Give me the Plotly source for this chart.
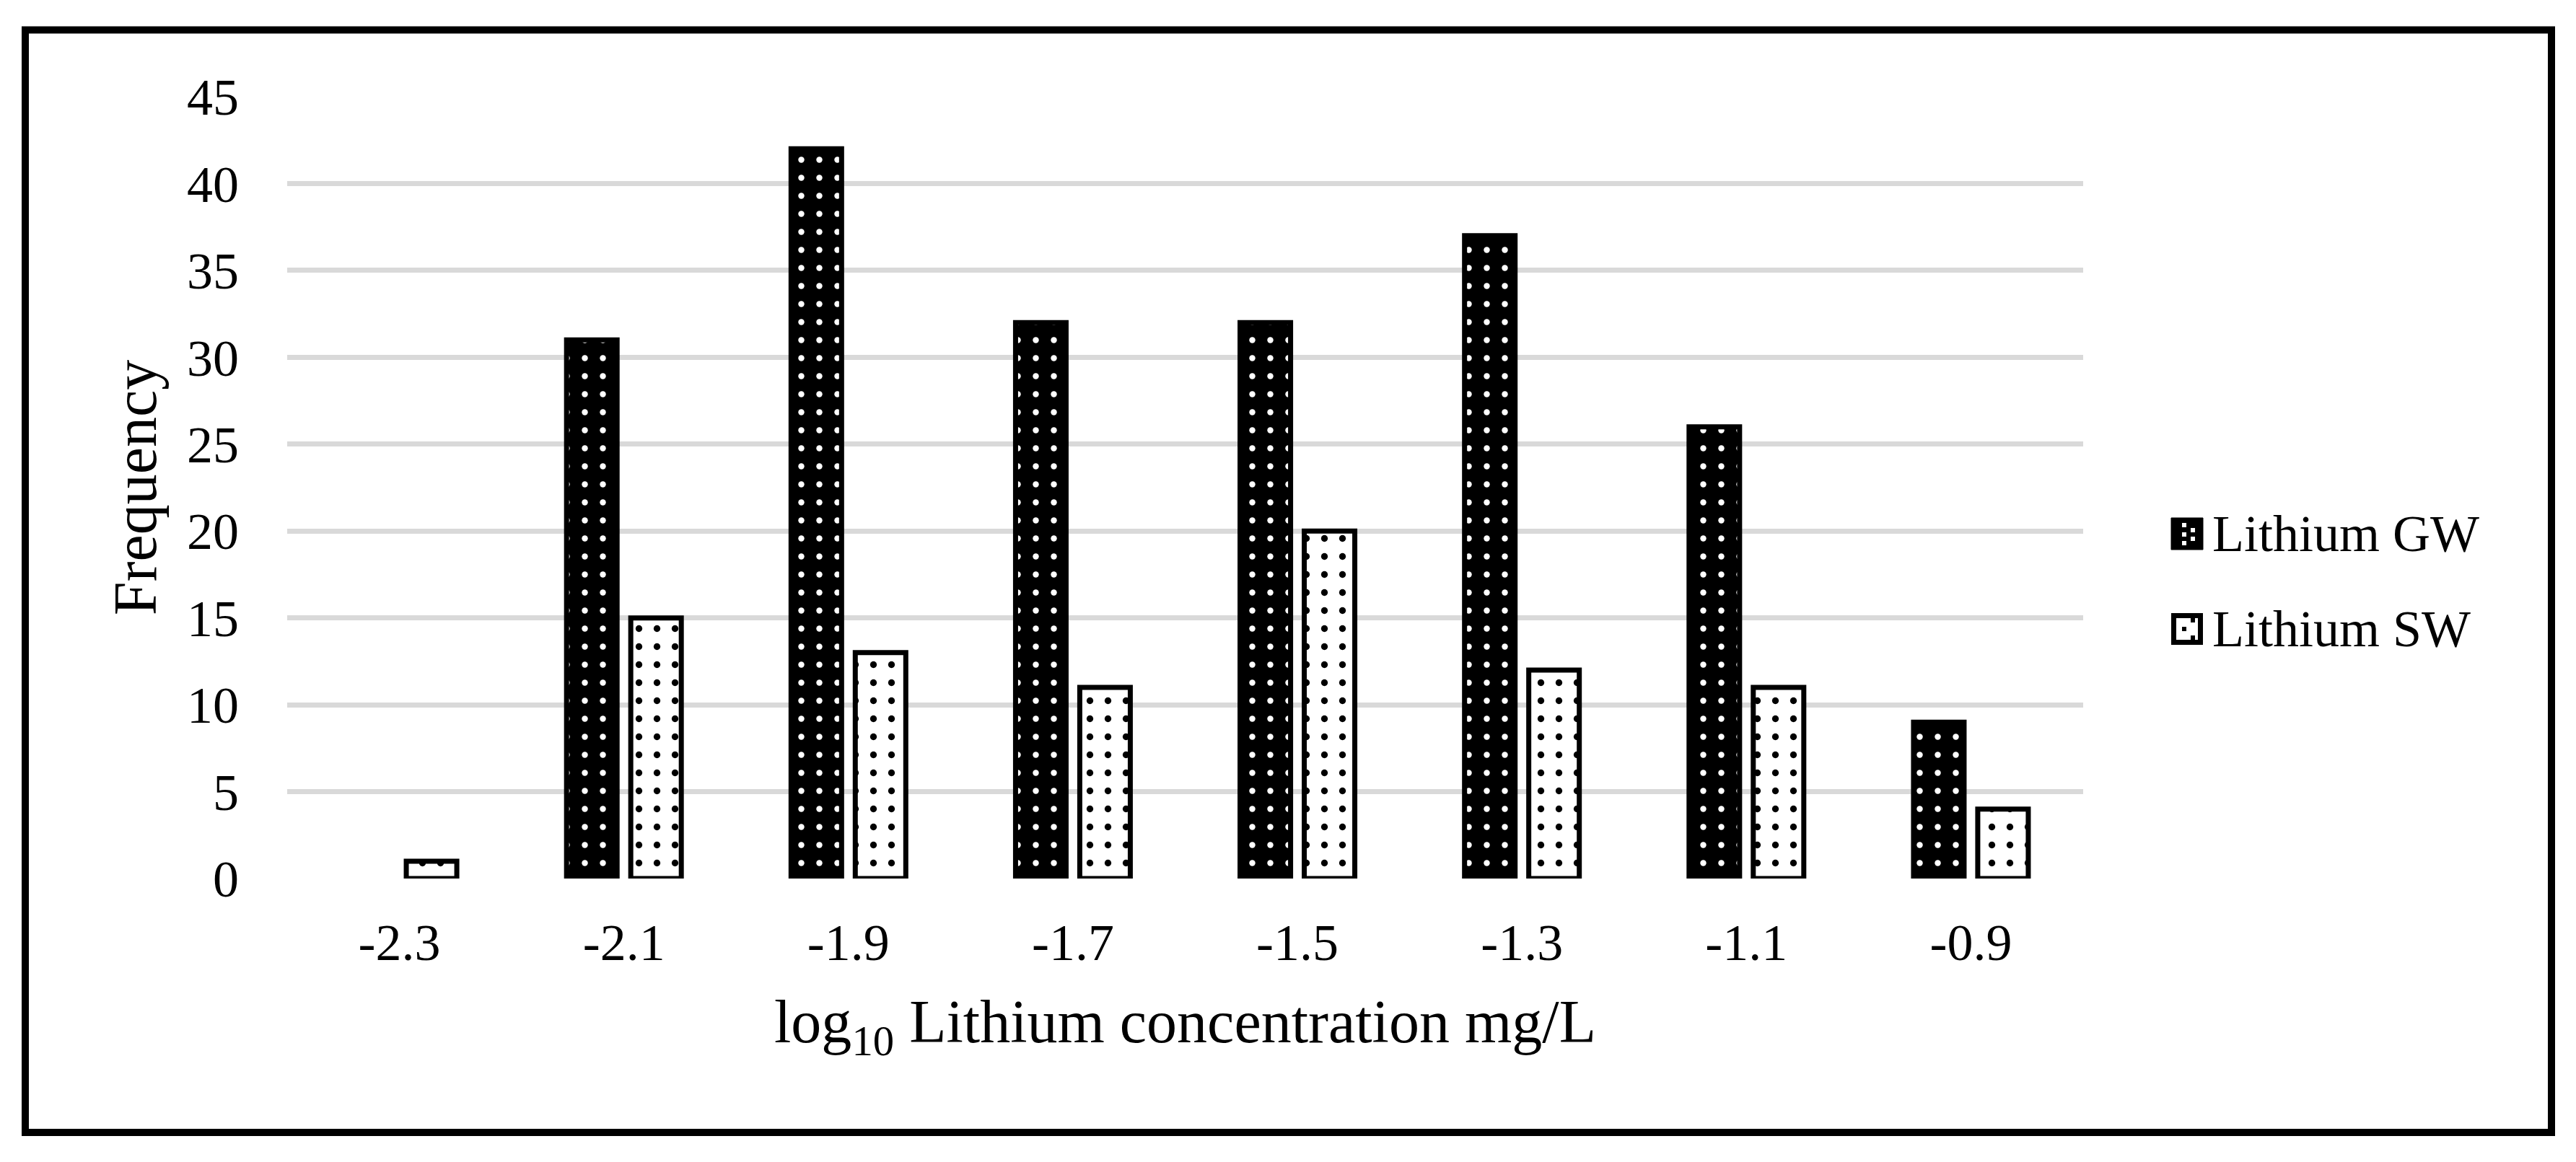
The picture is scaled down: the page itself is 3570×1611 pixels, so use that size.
import plotly.graph_objects as go

# ---- data ----
categories = ["-2.3", "-2.1", "-1.9", "-1.7", "-1.5", "-1.3", "-1.1", "-0.9"]
gw_values = [0, 31, 42, 32, 32, 37, 26, 9]
sw_values = [1, 15, 13, 11, 20, 12, 11, 4]
y_ticks = [0, 5, 10, 15, 20, 25, 30, 35, 40, 45]
series_names = ["Lithium GW", "Lithium SW"]
x_title = "log<sub>10</sub> Lithium concentration mg/L"
y_title = "Frequency"

# ---- geometry (page pixels; the page body adds an 8 px margin) ----
OFF = 8
W, H = 3570 - 2 * OFF, 1611 - 2 * OFF
L, R, T, B = 398 - OFF, 2887 - OFF, 134 - OFF, 1218 - OFF  # plot area in figure px


def px(x):
    return (x - OFF - L) / (R - L)


def py(y):
    return (B - (y - OFF)) / (B - T)


FONT = "Liberation Serif, Times New Roman, serif"

fig = go.Figure()
fig.add_trace(go.Bar(
    x=categories,
    y=[v if v else None for v in gw_values],
    name=series_names[0],
    showlegend=False,
    marker=dict(
        color="black",
        line=dict(color="black", width=7),
        pattern=dict(shape=".", bgcolor="black", fgcolor="white",
                     size=25, solidity=0.09, fillmode="replace"),
    ),
))
fig.add_trace(go.Bar(
    x=categories,
    y=[v if v else None for v in sw_values],
    name=series_names[1],
    showlegend=False,
    marker=dict(
        color="white",
        line=dict(color="black", width=7),
        pattern=dict(shape=".", bgcolor="white", fgcolor="black",
                     size=25, solidity=0.11, fillmode="replace"),
    ),
))

shapes = []
# outer frame
shapes.append(dict(type="rect", xref="paper", yref="paper",
                   x0=px(35), x1=px(3536), y0=py(1570), y1=py(41.5),
                   line=dict(color="black", width=10), fillcolor="rgba(0,0,0,0)"))
# legend swatches
shapes.append(dict(type="rect", xref="paper", yref="paper",
                   x0=px(3009), x1=px(3053), y0=py(762), y1=py(718),
                   line=dict(color="black", width=1), fillcolor="black"))
for cx, cy in [(3027, 728), (3027, 741), (3027, 753), (3039, 735), (3039, 747)]:
    shapes.append(dict(type="rect", xref="paper", yref="paper",
                       x0=px(cx - 3), x1=px(cx + 3), y0=py(cy + 3), y1=py(cy - 3),
                       line=dict(width=0), fillcolor="white"))
shapes.append(dict(type="rect", xref="paper", yref="paper",
                   x0=px(3012.5), x1=px(3049.5), y0=py(890.5), y1=py(853.5),
                   line=dict(color="black", width=7), fillcolor="white"))
for cx, cy in [(3027, 872), (3039, 860), (3039, 884)]:
    shapes.append(dict(type="rect", xref="paper", yref="paper",
                       x0=px(cx - 3), x1=px(cx + 3), y0=py(cy + 3), y1=py(cy - 3),
                       line=dict(width=0), fillcolor="black"))

annotations = [
    dict(text=series_names[0], xref="paper", yref="paper", x=px(3064), y=py(740),
         xanchor="left", yanchor="middle", showarrow=False,
         font=dict(family=FONT, size=72, color="black")),
    dict(text=series_names[1], xref="paper", yref="paper", x=px(3064), y=py(872),
         xanchor="left", yanchor="middle", showarrow=False,
         font=dict(family=FONT, size=72, color="black")),
]

fig.update_layout(
    width=W, height=H,
    margin=dict(l=L, r=W - R, t=T, b=H - B, autoexpand=False),
    paper_bgcolor="white", plot_bgcolor="white",
    barmode="group", bargap=0.428, bargroupgap=0.213,
    font=dict(family=FONT, color="black", size=72),
    shapes=shapes, annotations=annotations,
    showlegend=False,
    xaxis=dict(
        type="category", showgrid=False, showline=False, zeroline=False,
        ticks="", tickfont=dict(family=FONT, size=72, color="black"),
        ticklabelstandoff=40,
        title=dict(text=x_title, font=dict(family=FONT, size=84, color="black"),
                   standoff=40),
    ),
    yaxis=dict(
        range=[0, 45], tickvals=y_ticks, showgrid=True, gridcolor="#d9d9d9",
        gridwidth=7, zeroline=False, showline=False, ticks="",
        tickfont=dict(family=FONT, size=72, color="black"),
        ticklabelstandoff=66,
        title=dict(text=y_title, font=dict(family=FONT, size=84, color="black"),
                   standoff=14),
    ),
)

fig.write_html("out.html")
